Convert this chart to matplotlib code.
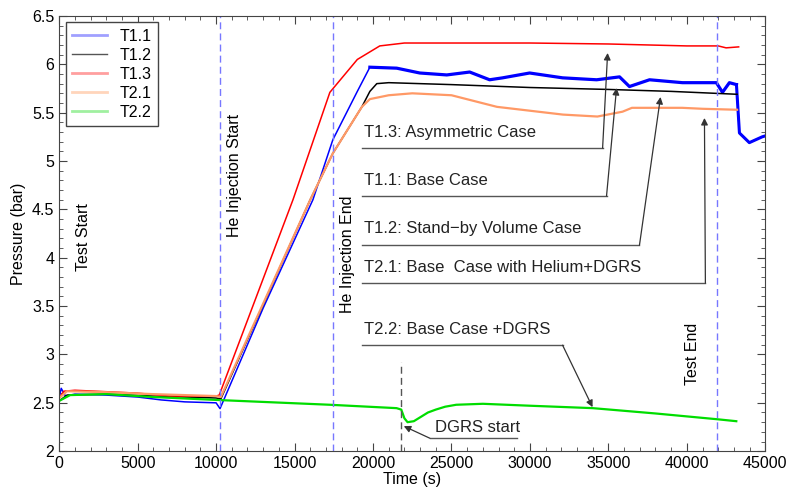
import matplotlib
matplotlib.use('Agg')
import matplotlib.pyplot as plt
from matplotlib.lines import Line2D
from matplotlib.ticker import MultipleLocator

plt.rcParams['font.family'] = ['Liberation Sans', 'DejaVu Sans']
plt.rcParams['font.size'] = 11.5

# ---- data ----
t11 = [0, 130, 400, 1000, 3000, 5000, 6500, 8000, 10000, 10250, 13000, 16170, 17440, 19000,
       19800, 21510, 22980, 24700, 26160, 27430, 28260, 29980, 32080, 34250, 35710, 36340,
       37620, 39720, 41880, 42270, 42710, 43160, 43350, 43980, 44800, 45000]
p11 = [2.55, 2.65, 2.57, 2.59, 2.58, 2.56, 2.53, 2.51, 2.50, 2.44, 3.48, 4.60, 5.22, 5.72,
       5.97, 5.96, 5.91, 5.89, 5.92, 5.84, 5.86, 5.91, 5.86, 5.84, 5.87, 5.77,
       5.84, 5.81, 5.81, 5.71, 5.81, 5.79, 5.29, 5.19, 5.25, 5.26]

t12 = [0, 500, 3000, 6000, 10000, 10300, 16000, 17440, 19290, 19800, 20240, 21000,
       25000, 30000, 35000, 39000, 43200]
p12 = [2.52, 2.58, 2.59, 2.57, 2.55, 2.54, 4.60, 5.08, 5.56, 5.72, 5.80, 5.81,
       5.79, 5.76, 5.74, 5.72, 5.69]

t13 = [0, 300, 1000, 5000, 7000, 10000, 10200, 14900, 17250, 19000, 20430, 22000,
       30000, 35000, 40000, 42000, 42500, 43300]
p13 = [2.55, 2.62, 2.63, 2.60, 2.57, 2.57, 2.58, 4.60, 5.71, 6.05, 6.19, 6.22,
       6.22, 6.21, 6.19, 6.19, 6.17, 6.18]

t21 = [0, 500, 3000, 6000, 10000, 10300, 16000, 17440, 19290, 19800, 21000, 22500,
       25000, 27900, 30000, 32100, 34300, 35900, 36500, 39700, 41000, 43200]
p21 = [2.55, 2.62, 2.61, 2.59, 2.57, 2.56, 4.60, 5.08, 5.56, 5.64, 5.68, 5.70,
       5.68, 5.56, 5.52, 5.48, 5.46, 5.51, 5.55, 5.55, 5.54, 5.53]

t22 = [0, 700, 3000, 6000, 10000, 17250, 21500, 21800, 22000, 22200, 22600, 23000,
       23500, 24000, 24600, 25300, 27000, 30000, 34000, 38000, 41950, 43150]
p22 = [2.52, 2.58, 2.59, 2.56, 2.53, 2.48, 2.445, 2.43, 2.34, 2.30, 2.31, 2.35,
       2.40, 2.43, 2.46, 2.48, 2.49, 2.47, 2.445, 2.39, 2.33, 2.31]

events = [10250, 17440, 41950]
event_labels = ['He Injection Start', 'He Injection End', 'Test End']
dgrs_time = 21770

fig = plt.figure(figsize=(7.89, 4.98), dpi=100)
ax = fig.add_axes([0.075, 0.094, 0.895, 0.874])

ax.plot(t11, p11, color='#0000ff', lw=1.1)
ax.plot(t11[14:32], p11[14:32], color='#0000ff', lw=2.3)
ax.plot(t11[31:], p11[31:], color='#0000ff', lw=2.2)
ax.plot(t12, p12, color='black', lw=1.1)
ax.plot(t13, p13, color='#ff0000', lw=1.1)
ax.plot(t21, p21, color='#ff9966', lw=1.6)
ax.plot(t22, p22, color='#00dd00', lw=1.6)

for t in events:
    ax.axvline(t, color='#7777ff', ls=(0, (5, 3)), lw=1)
ax.plot([dgrs_time, dgrs_time], [2.0, 2.92], color='#555555', ls=(0, (5, 3)), lw=1)

# event labels
ax.text(1530, 4.21, 'Test Start', rotation=90, ha='center', va='center')
ax.text(11200, 4.85, event_labels[0], rotation=90, ha='center', va='center')
ax.text(18400, 4.04, event_labels[1], rotation=90, ha='center', va='center')
ax.text(40360, 3.01, event_labels[2], rotation=90, ha='center', va='center')

# case annotations: text, underline, arrow
notes = [
    ('T1.3: Asymmetric Case', 5.30, 5.134, 34630, (34950, 6.117)),
    ('T1.1: Base Case', 4.80, 4.638, 34880, (35520, 5.755)),
    ('T1.2: Stand\u2212by Volume Case', 4.30, 4.131, 36980, (38320, 5.662)),
    ('T2.1: Base  Case with Helium+DGRS', 3.90, 3.738, 41180, (41120, 5.445)),
    ('T2.2: Base Case +DGRS', 3.26, 3.096, 32080, (33990, 2.455)),
]
for txt, ty, uy, ux, tip in notes:
    ax.text(19450, ty, txt, ha='left', va='center', color='#222222', fontsize=12)
    ax.plot([19290, ux], [uy, uy], color='#555555', lw=1)
    ax.annotate('', xy=tip, xytext=(ux, uy),
                arrowprops=dict(arrowstyle='-|>', color='#333333', lw=0.9,
                                shrinkA=0, shrinkB=0, mutation_scale=10))

ax.text(23930, 2.245, 'DGRS start', ha='left', va='center', color='#222222', fontsize=12)
ax.plot([23620, 29150], [2.134, 2.134], color='#555555', lw=1)
ax.annotate('', xy=(21960, 2.259), xytext=(23620, 2.134),
            arrowprops=dict(arrowstyle='-|>', color='#333333', lw=0.9,
                            shrinkA=0, shrinkB=0, mutation_scale=10))

ax.set_xlim(0, 45000)
ax.set_ylim(2, 6.5)
ax.xaxis.set_major_locator(MultipleLocator(5000))
ax.xaxis.set_minor_locator(MultipleLocator(1000))
ax.yaxis.set_major_locator(MultipleLocator(0.5))
ax.yaxis.set_minor_locator(MultipleLocator(0.1))
ax.yaxis.set_major_formatter(plt.FuncFormatter(lambda v, p: f'{v:g}'))
ax.tick_params(which='both', direction='in', top=True, right=True, color='#444444')
ax.tick_params(which='major', length=6)
ax.tick_params(which='minor', length=3)
for s in ax.spines.values():
    s.set_color('#444444')
ax.set_xlabel('Time (s)', labelpad=1)
ax.set_ylabel('Pressure (bar)', labelpad=4)

handles = [Line2D([], [], color=c, lw=2) for c in
           ['#a0a0ff', '#555555', '#ff9f9f', '#ffd5bb', '#a0f0a0']]
handles[1].set_linewidth(1)
leg = ax.legend(handles, ['T1.1', 'T1.2', 'T1.3', 'T2.1', 'T2.2'], loc='upper left',
                fancybox=False, edgecolor='#444444', framealpha=1,
                handlelength=2.2, borderaxespad=0.4, labelspacing=0.25)
leg.get_frame().set_linewidth(1)

fig.savefig('out.png', dpi=100)
